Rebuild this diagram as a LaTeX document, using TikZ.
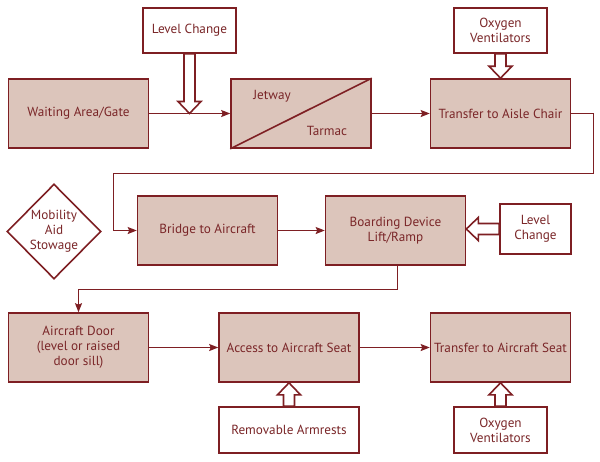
\documentclass[tikz,border=0pt]{standalone}
\usepackage{fontspec}
\setmainfont{PT Sans}
\usepackage{tikz}
\usetikzlibrary{arrows.meta,positioning,shapes.geometric,calc}
\definecolor{wine}{RGB}{126,31,35}
\definecolor{rose}{RGB}{220,197,187}
\definecolor{winetxt}{RGB}{122,38,40}
\newcommand{\fatarrow}[2]{%
  \path ($(#2)!12pt!(#1)$) coordinate (fh);
  \draw[fat] ($(#1)!5.5pt!90:(#2)$) -- ($(fh)!5.5pt!90:(#2)$) -- ($(fh)!11.5pt!90:(#2)$) -- (#2)
    -- ($(fh)!11.5pt!-90:(#2)$) -- ($(fh)!5.5pt!-90:(#2)$) -- ($(#1)!5.5pt!-90:(#2)$) -- cycle;}

\begin{document}
\begin{tikzpicture}[x=1pt,y=-1pt,
  box/.style={draw=wine,line width=1.6pt,fill=rose,align=center,text=winetxt,
    minimum width=140pt,minimum height=69pt,inner sep=2pt,font=\fontsize{13.2}{15}\selectfont},
  note/.style={draw=wine,line width=1.6pt,fill=white,align=center,text=winetxt,
    minimum width=93pt,minimum height=45pt,inner sep=2pt,font=\fontsize{13.2}{15}\selectfont},
  stow/.style={diamond,draw=wine,line width=1.6pt,fill=white,align=center,text=winetxt,
    minimum width=94pt,minimum height=95pt,inner sep=0pt,font=\fontsize{13.2}{15}\selectfont},
  lbl/.style={text=winetxt,inner sep=0pt,font=\fontsize{13.2}{15}\selectfont},
  fat/.style={draw=wine,line width=1.6pt,fill=white,line join=miter},
  link/.style={draw=wine,line width=1.3pt,-{Stealth[length=9pt,width=7pt,inset=1.5pt]}}]
\useasboundingbox (0,0) rectangle (600,461);
\node[box] (wait) at (78.5,113.5) {Waiting Area/Gate};
\node[box] (jet) at (301,113.5) {};
\node[box] (aisle) at (500.5,113.5) {Transfer to Aisle Chair};
\node[note] (lc1) at (189.5,30.5) {Level Change};
\node[note] (oxy1) at (500.5,30.5) {Oxygen\\Ventilators};
\node[stow] (stowage) at (54,231.5) {Mobility\\Aid\\Stowage};
\node[box] (bridge) at (207.5,230.5) {Bridge to Aircraft};
\node[box] (board) at (395.5,230.5) {Boarding Device\\Lift/Ramp};
\node[note,minimum width=71pt,minimum height=50pt] (lc2) at (535.5,229) {Level\\Change};
\node[box] (door) at (78.5,347.5) {Aircraft Door\\(level or raised\\door sill)};
\node[box] (access) at (289,347.5) {Access to Aircraft Seat};
\node[box] (seat) at (500.5,347.5) {Transfer to Aircraft Seat};
\node[note,minimum width=140pt,minimum height=46pt] (arm) at (289,430) {Removable Armrests};
\node[note,minimum height=46pt] (oxy2) at (500.5,430) {Oxygen\\Ventilators};
\draw[wine,line width=1.6pt] (jet.south west) -- (jet.north east);
\node[lbl] (jetway) at (272,96) {Jetway};
\node[lbl] (tarmac) at (327,131) {Tarmac};
\coordinate (lctip) at (lc1.south |- wait.east);
\draw[link] (wait) -- (jet); \draw[link] (jet) -- (aisle);
\draw[link] (aisle.east) -- ++(22,0) -- ++(0,60) -| ([xshift=-23pt]bridge.west) -- (bridge.west);
\draw[link] (bridge) -- (board);
\draw[link] (board.south) ++(2,0) -- ++(0,24) -| (door.north);
\draw[link] (door) -- (access); \draw[link] (access) -- (seat);
\fatarrow{lc1.south}{lctip}
\fatarrow{oxy1.south}{aisle.north}
\fatarrow{lc2.west}{board.east |- lc2.west}
\fatarrow{arm.north}{access.south}
\fatarrow{oxy2.north}{seat.south}
\end{tikzpicture}
\end{document}
